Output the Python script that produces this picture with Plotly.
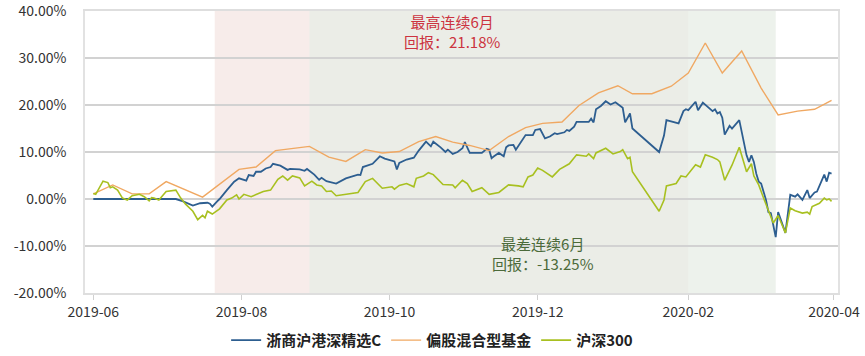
import plotly.graph_objects as go
import pandas as pd

# ---------------- data ----------------
fund_name = "浙商沪港深精选C"
peer_name = "偏股混合型基金"
index_name = "沪深300"

fund_dates = [
    "2019-06-01", "2019-07-05", "2019-07-08", "2019-07-12", "2019-07-15", "2019-07-18", "2019-07-19",
    "2019-07-20", "2019-07-22", "2019-07-23", "2019-07-26", "2019-07-29", "2019-07-31", "2019-08-03",
    "2019-08-04", "2019-08-06", "2019-08-07", "2019-08-09", "2019-08-11", "2019-08-13", "2019-08-14",
    "2019-08-17", "2019-08-20", "2019-08-21", "2019-08-25", "2019-08-27", "2019-08-28", "2019-08-31",
    "2019-09-02", "2019-09-03", "2019-09-05", "2019-09-09", "2019-09-13", "2019-09-18", "2019-09-19",
    "2019-09-20", "2019-09-24", "2019-09-27", "2019-09-29", "2019-10-03", "2019-10-04", "2019-10-05",
    "2019-10-08", "2019-10-11", "2019-10-13", "2019-10-16", "2019-10-18", "2019-10-19", "2019-10-22",
    "2019-10-24", "2019-10-25", "2019-10-27", "2019-10-29", "2019-10-31", "2019-11-01", "2019-11-03",
    "2019-11-08", "2019-11-10", "2019-11-11", "2019-11-12", "2019-11-13", "2019-11-15", "2019-11-17",
    "2019-11-18", "2019-11-19", "2019-11-21", "2019-11-22", "2019-11-24", "2019-11-26", "2019-11-29",
    "2019-11-30", "2019-12-02", "2019-12-04", "2019-12-06", "2019-12-08", "2019-12-09", "2019-12-12",
    "2019-12-13", "2019-12-14", "2019-12-16", "2019-12-17", "2019-12-20", "2019-12-22", "2019-12-23",
    "2019-12-24", "2019-12-25", "2019-12-27", "2019-12-29", "2019-12-31", "2020-01-02", "2020-01-05",
    "2020-01-06", "2020-01-08", "2020-01-09", "2020-01-20", "2020-01-22", "2020-01-23", "2020-01-28",
    "2020-01-30", "2020-01-31", "2020-02-01", "2020-02-04", "2020-02-05", "2020-02-07", "2020-02-11",
    "2020-02-12", "2020-02-13", "2020-02-14", "2020-02-15", "2020-02-16", "2020-02-18", "2020-02-19",
    "2020-02-20", "2020-02-22", "2020-02-25", "2020-02-26", "2020-02-27", "2020-02-28", "2020-02-29",
    "2020-03-01", "2020-03-02", "2020-03-04", "2020-03-05", "2020-03-06", "2020-03-08", "2020-03-09",
    "2020-03-12", "2020-03-14", "2020-03-16", "2020-03-17", "2020-03-19", "2020-03-21", "2020-03-22",
    "2020-03-24", "2020-03-25", "2020-03-28", "2020-03-29", "2020-03-30", "2020-03-31",
]
fund_vals = [
    0.0, 0.0, -0.5, -1.4, -0.9, -0.8, -1.0,
    -1.6, -0.5, 0.0, 1.9, 3.7, 4.4, 3.9,
    5.1, 4.9, 5.8, 5.8, 6.5, 6.8, 7.5,
    7.1, 6.2, 6.4, 6.3, 6.0, 6.4, 5.2,
    4.1, 4.5, 3.8, 3.3, 4.4, 5.2, 5.1,
    6.8, 7.5, 9.1, 8.6, 8.0, 6.3, 7.7,
    8.4, 8.8, 10.3, 12.2, 11.2, 12.2, 11.0,
    10.0, 10.5, 9.6, 10.0, 10.8, 12.1, 9.8,
    9.8, 10.7, 10.5, 8.7, 9.1, 9.8, 9.1,
    11.0, 11.4, 11.5, 10.5, 12.2, 13.6, 13.6,
    14.7, 14.9, 12.9, 13.3, 14.0, 13.8, 14.2,
    14.7, 14.5, 15.4, 16.4, 16.4, 16.4, 17.1,
    16.3, 19.1, 19.8, 20.8, 20.1, 20.6, 19.4,
    16.3, 18.2, 15.0, 10.0, 13.5, 16.8, 16.1,
    18.7, 19.1, 18.9, 20.7, 18.9, 20.5, 18.7,
    19.1, 18.2, 18.5, 17.3, 13.7, 15.6, 15.0,
    15.6, 16.8, 9.3, 7.9, 9.3, 7.9, 5.4,
    3.7, 3.3, -0.2, -2.8, -3.0, -8.1, -2.8,
    -7.2, 0.9, 0.5, 1.0, -0.2, 1.9, 0.2,
    1.4, 1.6, 5.2, 3.7, 5.6, 5.4,
]

peer_dates = [
    "2019-06-01", "2019-06-09", "2019-06-17", "2019-06-24", "2019-07-01", "2019-07-16", "2019-07-31",
    "2019-08-07", "2019-08-15", "2019-08-29", "2019-09-06", "2019-09-13", "2019-09-21", "2019-09-28",
    "2019-10-05", "2019-10-13", "2019-10-20", "2019-10-27", "2019-11-03", "2019-11-11", "2019-11-19",
    "2019-11-26", "2019-12-03", "2019-12-11", "2019-12-18", "2019-12-26", "2020-01-03", "2020-01-09",
    "2020-01-17", "2020-01-25", "2020-02-01", "2020-02-08", "2020-02-15", "2020-02-23", "2020-03-02",
    "2020-03-09", "2020-03-17", "2020-03-24", "2020-03-31",
]
peer_vals = [
    1.1, 3.0, 1.1, 1.1, 3.7, 0.4, 6.3,
    6.8, 10.3, 11.2, 8.9, 8.0, 10.5, 9.8,
    10.1, 12.2, 13.3, 12.1, 11.4, 10.3, 13.3,
    15.2, 16.1, 16.4, 19.9, 22.6, 24.1, 22.4,
    22.4, 24.0, 26.8, 33.2, 26.8, 31.5, 23.6,
    17.9, 18.7, 19.1, 21.0,
]

index_dates = [
    "2019-06-01", "2019-06-02", "2019-06-05", "2019-06-07", "2019-06-08", "2019-06-09", "2019-06-11",
    "2019-06-13", "2019-06-15", "2019-06-17", "2019-06-20", "2019-06-22", "2019-06-24", "2019-06-25",
    "2019-06-26", "2019-06-28", "2019-07-01", "2019-07-03", "2019-07-05", "2019-07-07", "2019-07-09",
    "2019-07-12", "2019-07-14", "2019-07-16", "2019-07-17", "2019-07-18", "2019-07-20", "2019-07-23",
    "2019-07-26", "2019-07-28", "2019-07-30", "2019-07-31", "2019-08-02", "2019-08-05", "2019-08-07",
    "2019-08-10", "2019-08-13", "2019-08-16", "2019-08-18", "2019-08-20", "2019-08-22", "2019-08-25",
    "2019-08-27", "2019-08-30", "2019-09-01", "2019-09-03", "2019-09-05", "2019-09-07", "2019-09-09",
    "2019-09-18", "2019-09-21", "2019-09-24", "2019-09-28", "2019-10-02", "2019-10-03", "2019-10-05",
    "2019-10-08", "2019-10-11", "2019-10-12", "2019-10-15", "2019-10-17", "2019-10-19", "2019-10-23",
    "2019-10-27", "2019-10-28", "2019-10-31", "2019-11-02", "2019-11-04", "2019-11-08", "2019-11-11",
    "2019-11-15", "2019-11-19", "2019-11-23", "2019-11-25", "2019-11-27", "2019-11-29", "2019-12-01",
    "2019-12-03", "2019-12-07", "2019-12-10", "2019-12-14", "2019-12-17", "2019-12-21", "2019-12-22",
    "2019-12-24", "2019-12-25", "2019-12-29", "2020-01-01", "2020-01-04", "2020-01-05", "2020-01-07",
    "2020-01-08", "2020-01-09", "2020-01-20", "2020-01-22", "2020-01-23", "2020-01-27", "2020-01-29",
    "2020-01-31", "2020-02-04", "2020-02-06", "2020-02-08", "2020-02-11", "2020-02-13", "2020-02-14",
    "2020-02-16", "2020-02-19", "2020-02-22", "2020-02-25", "2020-02-27", "2020-02-28", "2020-03-01",
    "2020-03-03", "2020-03-05", "2020-03-07", "2020-03-09", "2020-03-12", "2020-03-14", "2020-03-16",
    "2020-03-19", "2020-03-21", "2020-03-22", "2020-03-23", "2020-03-26", "2020-03-28", "2020-03-29",
    "2020-03-30", "2020-03-31",
]
index_vals = [
    1.2, 1.0, 3.8, 3.5, 2.4, 2.6, 1.9,
    0.2, -0.2, 0.7, 1.0, 0.5, -0.4, 0.3,
    0.2, -0.2, 1.6, 1.7, 1.9, 0.2, -1.1,
    -2.6, -4.4, -3.5, -4.0, -2.6, -3.2, -2.1,
    -0.2, 0.2, 0.9, 0.0, 1.0, 0.5, 1.0,
    1.6, 1.9, 4.2, 4.9, 4.0, 4.9, 4.5,
    2.8, 3.8, 3.0, 2.8, 1.6, 1.7, 0.7,
    1.4, 3.7, 4.4, 2.3, 2.6, 2.1, 2.9,
    3.3, 2.6, 4.4, 4.9, 5.6, 5.2, 3.1,
    3.0, 2.4, 4.0, 3.3, 1.6, 2.4, 1.0,
    1.4, 3.0, 2.8, 2.6, 4.7, 5.1, 6.6,
    6.1, 4.7, 6.3, 7.5, 9.4, 9.1, 9.6,
    8.6, 9.8, 10.8, 9.6, 10.1, 10.5, 8.6,
    8.9, 5.8, -2.6, -0.2, 2.8, 3.3, 4.9,
    4.7, 7.3, 6.8, 9.4, 8.9, 8.4, 7.9,
    4.0, 7.2, 11.0, 5.8, 7.5, 4.9, 3.0,
    0.2, -2.3, -5.1, -3.5, -7.2, -1.9, -2.5,
    -3.0, -2.8, -3.2, -1.6, -0.9, 0.2, -0.2,
    0.0, -0.5,
]

# best / worst rolling 6-month windows
best_window = ["2019-07-21", "2020-02-01"]
worst_window = ["2019-08-29", "2020-03-08"]
best_title = "最高连续6月"
best_return = "回报：21.18%"
worst_title = "最差连续6月"
worst_return = "回报：-13.25%"

x_ticks = ["2019-06-01", "2019-08-01", "2019-10-01", "2019-12-01", "2020-02-01", "2020-04-01"]
x_tick_text = ["2019-06", "2019-08", "2019-10", "2019-12", "2020-02", "2020-04"]
y_ticks = [-20, -10, 0, 10, 20, 30, 40]
y_tick_text = ["-20.00%", "-10.00%", "0.00%", "10.00%", "20.00%", "30.00%", "40.00%"]

# ---------------- styling ----------------
FONT = "Noto Sans CJK SC, Microsoft YaHei, sans-serif"
C_FUND = "#2d5e90"
C_PEER = "#f0a862"
C_INDEX = "#a8c020"

fig = go.Figure()
fig.add_trace(go.Scatter(x=fund_dates, y=fund_vals, name=fund_name, mode="lines",
                         line=dict(color=C_FUND, width=1.8)))
fig.add_trace(go.Scatter(x=peer_dates, y=peer_vals, name=peer_name, mode="lines",
                         line=dict(color=C_PEER, width=1.4)))
fig.add_trace(go.Scatter(x=index_dates, y=index_vals, name=index_name, mode="lines",
                         line=dict(color=C_INDEX, width=1.6)))

# shaded windows
fig.add_shape(type="rect", xref="x", yref="paper", x0=best_window[0], x1=best_window[1],
              y0=0, y1=1, fillcolor="#f7ecea", line=dict(width=0), layer="between")
fig.add_shape(type="rect", xref="x", yref="paper", x0=worst_window[0], x1=worst_window[1],
              y0=0, y1=1, fillcolor="rgba(231,238,230,0.75)", line=dict(width=0), layer="between")


def mid(a, b):
    ta, tb = pd.Timestamp(a), pd.Timestamp(b)
    return ta + (tb - ta) / 2


best_mid = mid(*best_window)
worst_mid = mid(*worst_window)
ann_font_red = dict(family=FONT, size=15, color="#cc3340")
ann_font_green = dict(family=FONT, size=15, color="#4b6a3a")
fig.add_annotation(x=best_mid, y=35.6, xref="x", yref="y",
                   text=best_title + "<br>" + best_return, align="center",
                   showarrow=False, font=ann_font_red)
fig.add_annotation(x=worst_mid, y=-11.5, xref="x", yref="y",
                   text=worst_title + "<br>" + worst_return, align="center",
                   showarrow=False, font=ann_font_green)

fig.update_layout(
    width=865, height=356,
    margin=dict(l=85, r=27, t=11, b=63, autoexpand=False),
    paper_bgcolor="white", plot_bgcolor="white",
    font=dict(family=FONT, size=14, color="#333333"),
    showlegend=True,
    legend=dict(orientation="h", x=0.461, xanchor="center", y=-0.168, yanchor="middle",
                font=dict(family=FONT, size=15, color="#222222", weight="bold"),
                bgcolor="rgba(0,0,0,0)"),
    hovermode=False,
)
fig.update_xaxes(
    type="date",
    range=["2019-05-28 14:00", "2020-04-02 15:36"],
    tickvals=x_ticks, ticktext=x_tick_text,
    showgrid=False, zeroline=False,
    showline=True, mirror=True, linecolor="#dedede", linewidth=1.5,
    ticks="outside", ticklen=5, tickcolor="#d0d0d0", tickwidth=1,
    ticklabelstandoff=0, ticklabeloverflow="allow",
    tickfont=dict(family=FONT, size=14, color="#333333"),
)
fig.update_yaxes(
    range=[-20, 40.01], tickvals=y_ticks, ticktext=y_tick_text,
    showgrid=True, gridcolor="#d2d2d2", gridwidth=1.6,
    zeroline=False,
    showline=True, mirror=True, linecolor="#e2e2e2", linewidth=1.5,
    ticks="", ticklabelstandoff=14, ticklabeloverflow="allow",
    tickfont=dict(family=FONT, size=14, color="#333333"),
)

# the page body has no margin so the figure sits at the window's top-left corner
fig.write_html("out.html", config={"displayModeBar": False},
               post_script="document.body.style.margin='0';")
